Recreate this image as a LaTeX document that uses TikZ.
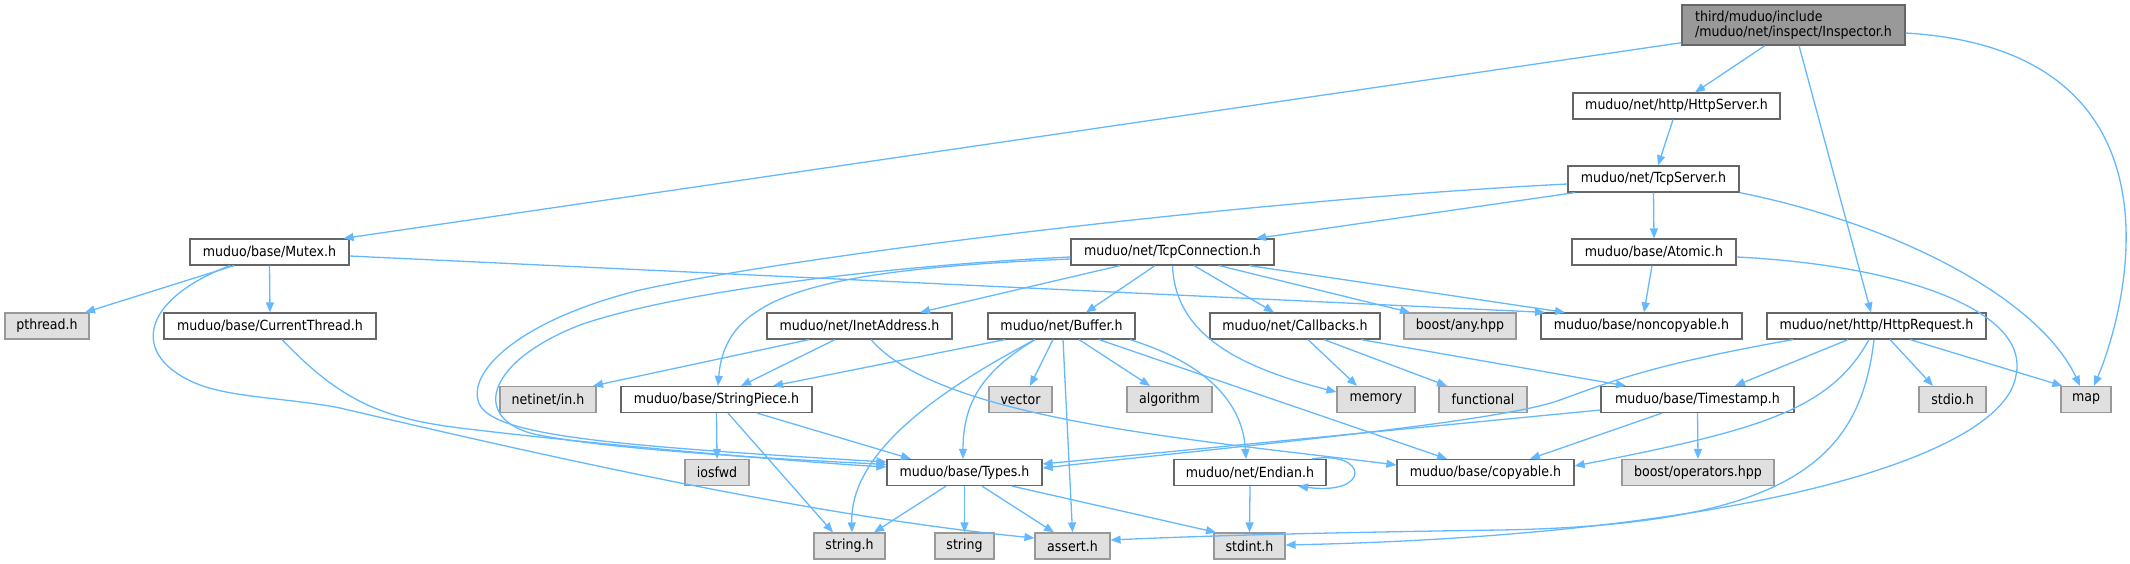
\documentclass[tikz,border=0pt]{standalone}
\usepackage{fontspec}
\setmainfont{DejaVu Sans Condensed}
\usetikzlibrary{arrows.meta}
\definecolor{edgec}{HTML}{63B8FF}
\definecolor{bdark}{HTML}{666666}
\definecolor{bgrey}{HTML}{999999}
\definecolor{fext}{HTML}{E0E0E0}
\tikzset{
  nbox/.style={draw=bdark, fill=white, line width=1.2pt, inner sep=0pt, minimum height=26pt, font=\fontsize{14}{15}\selectfont},
  ext/.style={nbox, draw=bgrey, fill=fext},
  rootbox/.style={nbox, fill=bgrey, draw=bdark, minimum height=40pt, align=left},
  edg/.style={draw=edgec, line width=1.3pt, -{Triangle[length=10pt,width=8pt]}}
}
\begin{document}
\begin{tikzpicture}[x=1pt,y=-1pt]
\useasboundingbox (0,0) rectangle (2130,564);
% row 1-4
\node[rootbox, minimum width=223pt] (Insp) at (1793.5,25) {third/muduo/include\\/muduo/net/inspect/Inspector.h};
\node[nbox, minimum width=207pt] (HttpServer) at (1676.5,106) {muduo/net/http/HttpServer.h};
\node[nbox, minimum width=171pt] (TcpServer) at (1653.5,179) {muduo/net/TcpServer.h};
\node[nbox, minimum width=159pt] (Mutex) at (269.5,252) {muduo/base/Mutex.h};
\node[nbox, minimum width=203pt] (TcpConn) at (1172.5,252) {muduo/net/TcpConnection.h};
\node[nbox, minimum width=164pt] (Atomic) at (1654,252) {muduo/base/Atomic.h};
% row 5
\node[ext, minimum width=84pt] (pthread) at (47,326) {pthread.h};
\node[nbox, minimum width=212pt] (CurThread) at (270,326) {muduo/base/CurrentThread.h};
\node[nbox, minimum width=185pt] (Inet) at (859.5,326) {muduo/net/InetAddress.h};
\node[nbox, minimum width=147pt] (Buffer) at (1061.5,326) {muduo/net/Buffer.h};
\node[nbox, minimum width=170pt] (Callbacks) at (1295,326) {muduo/net/Callbacks.h};
\node[ext, minimum width=112pt] (anyhpp) at (1460,326) {boost/any.hpp};
\node[nbox, minimum width=201pt] (noncopy) at (1641.5,326) {muduo/base/noncopyable.h};
\node[nbox, minimum width=219pt] (HttpReq) at (1876.5,326) {muduo/net/http/HttpRequest.h};
% row 6
\node[ext, minimum width=96pt] (netinet) at (548,399.5) {netinet/in.h};
\node[nbox, minimum width=191pt] (StrPiece) at (716.5,399.5) {muduo/base/StringPiece.h};
\node[ext, minimum width=63pt] (vector) at (1020.5,399.5) {vector};
\node[ext, minimum width=85pt] (algorithm) at (1169.5,399.5) {algorithm};
\node[ext, minimum width=78pt] (memory) at (1376,399.5) {memory};
\node[ext, minimum width=88pt] (functional) at (1483,399.5) {functional};
\node[nbox, minimum width=193pt] (Timestamp) at (1697.5,399.5) {muduo/base/Timestamp.h};
\node[ext, minimum width=67pt] (stdio) at (1952.5,399.5) {stdio.h};
\node[ext, minimum width=50pt] (map) at (2086,399.5) {map};
% row 7
\node[ext, minimum width=64pt] (iosfwd) at (717,472.5) {iosfwd};
\node[nbox, minimum width=155pt] (Types) at (964.5,472.5) {muduo/base/Types.h};
\node[nbox, minimum width=152pt] (Endian) at (1250,472.5) {muduo/net/Endian.h};
\node[nbox, minimum width=177pt] (copyable) at (1485.5,472.5) {muduo/base/copyable.h};
\node[ext, minimum width=152pt] (operators) at (1698,472.5) {boost/operators.hpp};
% row 8
\node[ext, minimum width=71pt] (stringh) at (849.5,546) {string.h};
\node[ext, minimum width=59pt] (string) at (964.5,546) {string};
\node[ext, minimum width=75pt] (assert) at (1072.5,546) {assert.h};
\node[ext, minimum width=71pt] (stdint) at (1249.5,546) {stdint.h};

% Inspector
\draw[edg] ([xshift=-28.5pt]Insp.south) -- ([xshift=18.5pt]HttpServer.north);
\draw[edg] ([yshift=-17.7pt]Insp.west) -- ([xshift=-6pt]Mutex.north east);
\draw[edg] ([xshift=5.5pt]Insp.south) -- ([xshift=-5.5pt]HttpReq.north);
\draw[edg] ([yshift=-8pt]Insp.east) .. controls (2190,50) and (2130,300) .. ([xshift=8pt]map.north);
% HttpServer
\draw[edg] ([xshift=-3.5pt]HttpServer.south) -- ([xshift=4.5pt]TcpServer.north);
% TcpServer
\draw[edg] (TcpServer.south) -- (Atomic.north);
\draw[edg] ([xshift=-78.5pt]TcpServer.south) -- ([xshift=83.5pt]TcpConn.north);
\draw[edg] ([yshift=-5pt]TcpServer.west) .. controls (1250,200) and (800,255) .. (640,290)
   .. controls (520,320) and (470,370) .. (478,400)
   .. controls (485,435) and (600,445) .. ([yshift=10.5pt]Types.west);
\draw[edg] (TcpServer.south east) .. controls (1900,225) and (2040,300) .. ([xshift=-6pt]map.north);
% Atomic
\draw[edg] ([xshift=-2pt]Atomic.south) -- ([xshift=2.5pt]noncopy.north);
\draw[edg] ([yshift=-5pt]Atomic.east) .. controls (1900,265) and (2030,310) .. (2016,375)
   .. controls (2005,455) and (1750,535) .. ([yshift=1pt]stdint.east);
% Mutex
\draw[edg] ([xshift=-35.5pt]Mutex.south) -- ([xshift=38pt]pthread.north);
\draw[edg] (Mutex.south) -- (CurThread.north);
\draw[edg] ([yshift=-4pt]Mutex.east) -- ([xshift=-96.5pt]noncopy.north);
\draw[edg] ([xshift=-39.5pt]Mutex.south) .. controls (140,300) and (130,355) .. (195,383)
   .. controls (230,398) and (290,398) .. (340,408)
   .. controls (520,450) and (800,515) .. ([yshift=8pt]assert.west);
% CurrentThread
\draw[edg] ([xshift=12pt]CurThread.south) .. controls (340,400) and (380,418) .. (460,428)
   .. controls (600,445) and (800,462) .. ([yshift=5.5pt]Types.west);
% TcpConnection
\draw[edg] ([yshift=-5pt]TcpConn.west) .. controls (900,265) and (680,290) .. (580,325)
   .. controls (490,360) and (470,415) .. (530,433)
   .. controls (600,450) and (800,460) .. ([yshift=8pt]Types.west);
\draw[edg] ([yshift=-7pt]TcpConn.west) .. controls (800,270) and (725,300) .. ([xshift=1.5pt]StrPiece.north);
\draw[edg] ([xshift=-52.5pt]TcpConn.south) -- ([xshift=60.5pt]Inet.north);
\draw[edg] ([xshift=-17.5pt]TcpConn.south) -- ([xshift=24.5pt]Buffer.north);
\draw[edg] (TcpConn.south) .. controls (1175,330) and (1230,365) .. ([yshift=7.5pt]memory.west);
\draw[edg] ([xshift=21.5pt]TcpConn.south) -- ([xshift=-21pt]Callbacks.north);
\draw[edg] ([xshift=46.5pt]TcpConn.south) -- ([xshift=-50pt]anyhpp.north);
\draw[edg] ([xshift=76.5pt]TcpConn.south) -- ([xshift=-76.5pt]noncopy.north);
% InetAddress
\draw[edg] ([xshift=-50.5pt]Inet.south) -- ([xshift=45pt]netinet.north);
\draw[edg] ([xshift=-24.5pt]Inet.south) -- ([xshift=24.5pt]StrPiece.north);
\draw[edg] ([xshift=11.5pt]Inet.south) .. controls (940,420) and (1200,440) .. ([yshift=7.5pt]copyable.west);
% Buffer
\draw[edg] ([xshift=-56.5pt]Buffer.south) -- ([xshift=56.5pt]StrPiece.north);
\draw[edg] ([xshift=-26.5pt]Buffer.south) .. controls (920,400) and (850,460) .. ([xshift=2.5pt]stringh.north);
\draw[edg] ([xshift=-26.5pt]Buffer.south) .. controls (985,370) and (963,400) .. ([xshift=-1.5pt]Types.north);
\draw[edg] ([xshift=-8.5pt]Buffer.south) -- ([xshift=9.5pt]vector.north);
\draw[edg] ([xshift=1.5pt]Buffer.south) -- (assert.north);
\draw[edg] ([xshift=17.5pt]Buffer.south) -- ([xshift=-19.5pt]algorithm.north);
\draw[edg] ([xshift=68.5pt]Buffer.south) .. controls (1195,360) and (1242,395) .. ([xshift=-4pt]Endian.north);
\draw[edg] ([xshift=37.5pt]Buffer.south) -- ([xshift=-38.5pt]copyable.north);
% Endian
\draw[edg] (Endian.south) -- (stdint.north);
\draw[edg] ([xshift=62pt]Endian.north) .. controls (1368,450) and (1372,496) .. ([xshift=48pt]Endian.south);
% Callbacks
\draw[edg] ([xshift=13pt]Callbacks.south) -- ([xshift=-19pt]memory.north);
\draw[edg] ([xshift=29pt]Callbacks.south) -- ([xshift=-36pt]functional.north);
\draw[edg] ([xshift=66pt]Callbacks.south) -- ([xshift=-71.5pt]Timestamp.north);
% StringPiece
\draw[edg] (StrPiece.south) -- (iosfwd.north);
\draw[edg] ([xshift=11.5pt]StrPiece.south) -- ([xshift=-16.5pt]stringh.north);
\draw[edg] ([xshift=40.5pt]StrPiece.south) -- ([xshift=-53.5pt]Types.north);
% Types
\draw[edg] ([xshift=-18.5pt]Types.south) -- ([xshift=24.5pt]stringh.north);
\draw[edg] (Types.south) -- (string.north);
\draw[edg] ([xshift=17.5pt]Types.south) -- ([xshift=-18.5pt]assert.north);
\draw[edg] ([xshift=47.5pt]Types.south) -- ([xshift=-33.5pt]stdint.north);
% Timestamp
\draw[edg] ([yshift=-10.5pt]Timestamp.west) -- ([yshift=8.5pt]Types.east);
\draw[edg] ([xshift=-35.5pt]Timestamp.south) -- ([xshift=44.5pt]copyable.north);
\draw[edg] (Timestamp.south) -- (operators.north);
% HttpRequest
\draw[edg] ([xshift=-83.5pt]HttpReq.south) .. controls (1650,365) and (1610,382) .. (1560,400)
   .. controls (1500,422) and (1250,445) .. ([yshift=4.5pt]Types.east);
\draw[edg] ([xshift=-28.5pt]HttpReq.south) -- ([xshift=37.5pt]Timestamp.north);
\draw[edg] ([xshift=-7.5pt]HttpReq.south) .. controls (1830,410) and (1760,430) .. ([yshift=6.5pt]copyable.east);
\draw[edg] ([xshift=-2.5pt]HttpReq.south) .. controls (1860,460) and (1790,525) .. (1500,530)
   .. controls (1300,533) and (1200,536) .. ([yshift=6pt]assert.east);
\draw[edg] ([xshift=13.5pt]HttpReq.south) -- ([xshift=-19.5pt]stdio.north);
\draw[edg] ([xshift=33.5pt]HttpReq.south) -- ([xshift=2pt]map.north west);
\end{tikzpicture}
\end{document}
